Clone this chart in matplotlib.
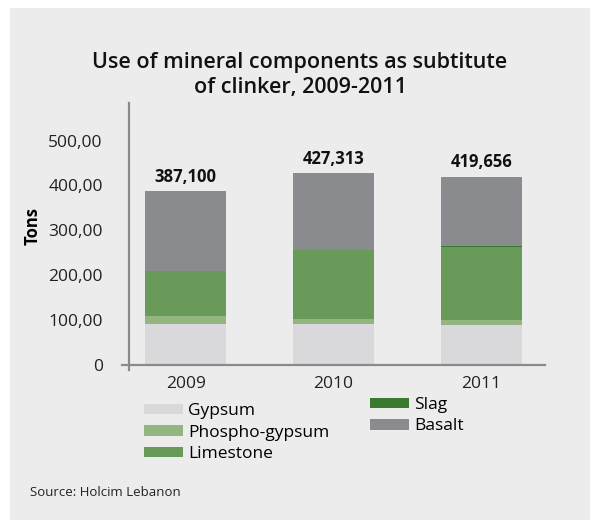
import matplotlib
matplotlib.use("Agg")
import matplotlib.pyplot as plt
import numpy as np

# data (thousand tons)
years = ["2009", "2010", "2011"]
gypsum = [90, 90, 88]
phospho = [18, 11, 11]
limestone = [101, 154, 164]
slag = [0, 0, 2]
basalt = [178.1, 172.3, 154.7]
totals = ["387,100", "427,313", "419,656"]
yticks = [0, 100, 200, 300, 400, 500]
ytick_labels = ["0", "100,00", "200,00", "300,00", "400,00", "500,00"]

series = [
    ("Gypsum", gypsum, "#d9d9db"),
    ("Phospho-gypsum", phospho, "#93b580"),
    ("Limestone", limestone, "#6a9a5a"),
    ("Slag", slag, "#3a7a2e"),
    ("Basalt", basalt, "#8a8b8f"),
]

plt.rcParams['font.family'] = ['Open Sans', 'DejaVu Sans']
BG = "#ececec"
AXC = "#8a8a8a"

fig = plt.figure(figsize=(6, 5.25), dpi=100)
fig.patch.set_facecolor("white")
fig.patches.append(plt.Rectangle((10 / 600, 5 / 525), 580 / 600, 512 / 525,
                                 transform=fig.transFigure, facecolor=BG,
                                 edgecolor="none", zorder=-10))

ax = fig.add_axes([0.2033, 0.2954, 0.705, 0.5086])
ax.set_facecolor("none")

x = np.arange(len(years))
bottom = np.zeros(len(years))
handles = {}
for name, vals, col in series:
    h = ax.bar(x, vals, width=0.547, bottom=bottom, color=col, label=name, linewidth=0)
    handles[name] = h
    bottom += np.array(vals)

for xi, top, lab in zip(x, bottom, totals):
    ax.text(xi, top + 12, lab, ha="center", va="bottom", fontsize=12,
            fontweight="bold", color="#111111")

ax.set_xlim(-0.43, 2.43)
ax.set_ylim(-12, 584)
ax.spines['left'].set_position(('data', -0.382))
ax.spines['bottom'].set_position(('data', 0))
for s in ["top", "right"]:
    ax.spines[s].set_visible(False)
for s in ["left", "bottom"]:
    ax.spines[s].set_color(AXC)
    ax.spines[s].set_linewidth(1.6)

ax.set_yticks(yticks)
ax.set_yticklabels(ytick_labels)
ax.tick_params(axis="y", length=0, pad=19, labelsize=12.5, colors="#222222")
ax.set_xticks(x)
ax.set_xticklabels(years)
ax.tick_params(axis="x", length=0, pad=8, labelsize=12.5, colors="#222222")
ax.set_ylabel("Tons", fontsize=12, fontweight="bold")
ax.yaxis.set_label_coords(-0.19, 0.54)

fig.text(0.5, 0.857, "Use of mineral components as subtitute\nof clinker, 2009-2011",
         ha="center", va="center", fontsize=15.5, fontweight="semibold",
         linespacing=1.25, color="#111111")

leg_kw = dict(loc="upper left", frameon=False, fontsize=12.5, handlelength=2.25,
              handleheight=0.55, labelspacing=0.32, handletextpad=0.3,
              borderaxespad=0, borderpad=0)
fig.legend([handles[n] for n in ["Gypsum", "Phospho-gypsum", "Limestone"]],
           ["Gypsum", "Phospho-gypsum", "Limestone"],
           bbox_to_anchor=(0.24, 0.232), **leg_kw)
fig.legend([handles[n] for n in ["Slag", "Basalt"]], ["Slag", "Basalt"],
           bbox_to_anchor=(0.617, 0.244), **leg_kw)

fig.text(0.05, 0.062, "Source: Holcim Lebanon", fontsize=9.5, color="#222222",
         va="center")

fig.savefig("out.png", dpi=100, facecolor=fig.get_facecolor())
